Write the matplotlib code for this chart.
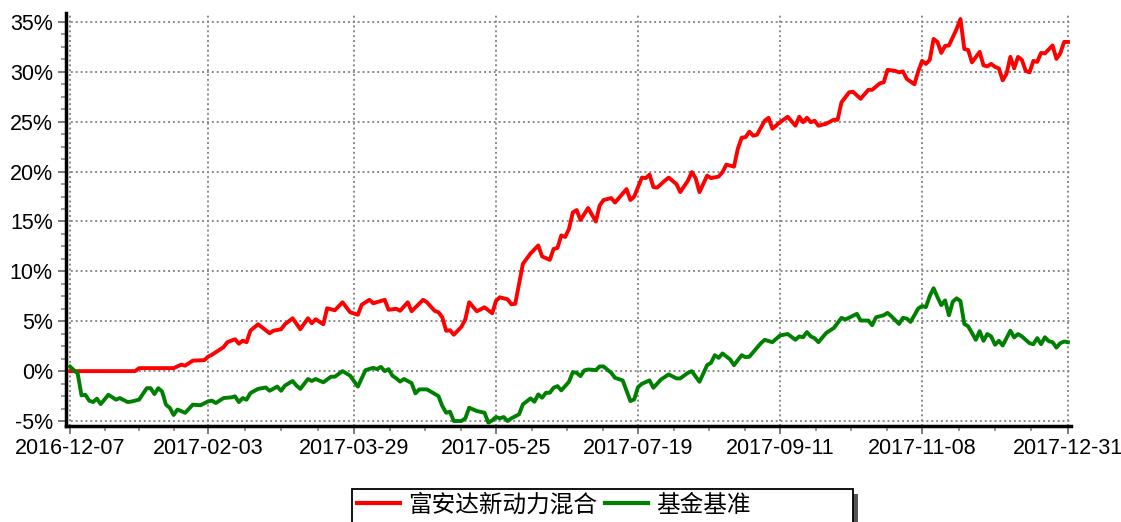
import numpy as np
import matplotlib
matplotlib.use("Agg")
import matplotlib.pyplot as plt
from matplotlib.patches import Rectangle
from matplotlib.lines import Line2D
from matplotlib.font_manager import FontProperties

plt.rcParams['font.family'] = ['Liberation Sans', 'Noto Sans CJK SC']

# trading-day index (0 = 2016-12-07) and cumulative return in %
fund_name = "富安达新动力混合"
bench_name = "基金基准"

fund_idx = [0, 17, 18, 27, 29, 30, 32, 35, 36, 37, 38, 40, 41, 43, 44, 45, 46, 47, 49, 50,
            52, 53, 55, 56, 58, 60, 62, 63, 64, 66, 67, 69, 71, 73, 75, 76, 78, 79, 82, 83,
            85, 86, 88, 89, 92, 93, 95, 96, 97, 98, 99, 100, 102, 103, 104, 106, 108, 110, 111, 112,
            114, 115, 116, 117, 118, 120, 122, 123, 125, 126, 127, 128, 129, 130, 131, 132, 133, 135, 137, 138,
            139, 141, 142, 145, 146, 147, 149, 150, 151, 152, 153, 155, 156, 158, 159, 161, 162, 163, 164, 166,
            167, 169, 170, 171, 173, 174, 175, 176, 177, 178, 179, 181, 182, 183, 185, 187, 189, 190, 191, 192,
            193, 194, 195, 197, 199, 200, 201, 203, 204, 206, 208, 209, 211, 212, 213, 215, 216, 217, 218, 220,
            221, 222, 223, 224, 225, 226, 227, 228, 229, 231, 232, 233, 234, 235, 237, 238, 239, 240, 241, 242,
            243, 244, 245, 246, 247, 248, 249, 250, 251, 252, 253, 254, 256, 257, 258, 259, 260]
fund_pct = [0.0, 0.0, 0.3, 0.3, 0.65, 0.55, 1.05, 1.1, 1.45, 1.65, 1.9, 2.4, 2.9, 3.2, 2.75, 3.05, 2.9, 4.05, 4.7, 4.4,
            3.8, 4.05, 4.2, 4.7, 5.3, 4.2, 5.3, 4.8, 5.2, 4.7, 6.3, 6.1, 6.9, 5.9, 5.65, 6.65, 7.15, 6.8, 7.15, 6.15,
            6.25, 6.05, 6.9, 6.0, 7.15, 6.9, 6.05, 5.9, 5.4, 4.05, 4.1, 3.65, 4.45, 5.2, 6.9, 6.0, 6.4, 5.8, 7.05, 7.4,
            7.2, 6.7, 6.75, 8.75, 10.75, 11.8, 12.6, 11.5, 11.15, 12.25, 12.35, 13.6, 13.45, 14.25, 15.9, 16.15, 15.15, 16.35, 15.0, 16.6,
            17.15, 17.35, 16.9, 18.25, 17.15, 17.5, 19.4, 19.35, 19.7, 18.45, 18.4, 19.1, 19.4, 18.75, 17.95, 19.1, 19.95, 19.35, 17.95, 19.6,
            19.35, 19.5, 19.95, 20.7, 20.5, 22.3, 23.4, 23.45, 24.0, 23.6, 23.7, 25.1, 25.4, 24.3, 24.95, 25.5, 24.6, 25.5, 24.95, 25.4,
            24.95, 25.1, 24.6, 24.8, 25.2, 25.2, 26.95, 27.95, 28.0, 27.3, 28.2, 28.2, 28.85, 28.95, 30.2, 30.1, 29.95, 30.05, 29.3, 28.75,
            30.05, 31.1, 30.8, 31.2, 33.3, 33.0, 31.9, 32.6, 32.65, 34.3, 35.3, 32.3, 32.2, 30.95, 32.0, 30.65, 30.55, 30.8, 30.5, 30.35,
            29.15, 29.8, 31.5, 30.35, 31.5, 31.2, 30.1, 29.95, 31.1, 31.0, 31.9, 31.85, 32.65, 31.3, 31.85, 33.0, 33.0]

bench_idx = [0, 1, 2, 3, 4, 5, 6, 7, 8, 10, 12, 13, 15, 16, 18, 20, 21, 22, 23, 24,
             25, 26, 27, 28, 30, 32, 34, 36, 37, 38, 40, 42, 43, 44, 45, 46, 47, 49, 51, 52,
             54, 55, 56, 58, 59, 60, 62, 63, 64, 66, 68, 69, 71, 73, 75, 77, 79, 80, 81, 82,
             83, 84, 85, 86, 87, 89, 90, 91, 93, 96, 97, 98, 99, 100, 102, 103, 104, 106, 108, 109,
             110, 111, 112, 113, 114, 115, 117, 118, 120, 121, 122, 123, 124, 125, 126, 127, 128, 130, 131, 132,
             133, 134, 135, 137, 138, 139, 141, 142, 144, 146, 147, 148, 149, 151, 152, 154, 156, 158, 159, 161,
             162, 164, 166, 167, 168, 169, 170, 172, 173, 175, 176, 177, 178, 180, 181, 183, 185, 187, 189, 190,
             191, 192, 193, 194, 195, 197, 199, 201, 202, 205, 206, 208, 209, 210, 212, 213, 214, 216, 217, 218,
             219, 221, 222, 223, 224, 225, 226, 227, 228, 229, 230, 231, 232, 233, 234, 236, 237, 238, 239, 240,
             241, 242, 243, 245, 246, 247, 248, 250, 251, 252, 253, 254, 255, 256, 257, 258, 259, 260]
bench_pct = [0.45, 0.1, -0.23, -2.43, -2.37, -2.96, -3.1, -2.76, -3.3, -2.37, -2.86, -2.7, -3.1, -3.05, -2.86, -1.71, -1.71, -2.3, -1.71, -2.04,
             -3.36, -3.68, -4.4, -3.85, -4.18, -3.36, -3.42, -3.03, -2.96, -3.2, -2.7, -2.63, -2.53, -3.1, -2.7, -2.86, -2.2, -1.78, -1.64, -1.97,
             -1.55, -1.97, -1.45, -0.99, -1.45, -1.78, -0.79, -0.99, -0.79, -1.12, -0.56, -0.56, 0.0, -0.46, -1.55, 0.1, 0.33, 0.2, 0.43, 0.0,
             0.2, -0.46, -0.72, -1.05, -0.79, -1.2, -2.23, -1.83, -1.83, -2.5, -3.5, -4.17, -4.07, -5.0, -5.0, -4.73, -3.67, -4.0, -4.17, -5.17,
             -4.93, -4.6, -4.73, -4.6, -5.0, -4.73, -4.33, -3.33, -2.73, -3.07, -2.33, -2.67, -2.17, -2.17, -1.67, -1.5, -1.93, -1.07, -0.1, -0.17,
             -0.5, 0.07, 0.17, 0.1, 0.47, 0.47, -0.17, -0.67, -0.93, -3.0, -2.83, -1.6, -1.27, -0.93, -1.67, -0.83, -0.33, -0.73, -0.73, -0.17,
             0.0, -1.07, 0.6, 0.83, 1.6, 1.33, 1.77, 1.17, 0.6, 1.6, 1.4, 1.45, 1.9, 2.8, 3.14, 2.9, 3.58, 3.72, 3.14, 3.48,
             3.4, 3.92, 3.48, 3.3, 2.9, 3.82, 4.32, 5.34, 5.17, 5.74, 5.07, 5.07, 4.6, 5.4, 5.6, 5.84, 5.5, 4.73, 5.34, 5.27,
             4.93, 6.28, 6.52, 6.42, 7.53, 8.31, 7.43, 6.62, 7.09, 5.6, 6.96, 7.3, 7.03, 4.73, 4.5, 3.14, 4.0, 3.04, 3.72, 3.48,
             2.64, 3.04, 2.57, 4.05, 3.38, 3.72, 3.48, 2.8, 2.7, 3.31, 2.7, 3.4, 3.0, 2.9, 2.36, 2.8, 2.97, 2.9]

tick_idx = [0, 36, 74, 111, 148, 185, 222, 260]
tick_labels = ["2016-12-07", "2017-02-03", "2017-03-29", "2017-05-25",
               "2017-07-19", "2017-09-11", "2017-11-08", "2017-12-31"]
y_ticks = [-5, 0, 5, 10, 15, 20, 25, 30, 35]

W, H = 1121, 522
fig = plt.figure(figsize=(W / 100, H / 100), dpi=100)
ax = fig.add_axes([66 / W, 96 / H, 1005 / W, 413 / H])

ax.plot(fund_idx, fund_pct, color='#ff0000', lw=2.8, solid_joinstyle='round', zorder=3)
ax.plot(bench_idx, bench_pct, color='#008000', lw=2.8, solid_joinstyle='round', zorder=3)

ax.set_xlim(-1.04, 260.8)
ax.set_ylim(-5.5, 35.9)

ax.set_xticks(tick_idx)
ax.set_xticklabels(tick_labels, fontsize=15.5)
minor_x = []
for a, b in zip(tick_idx[:-1], tick_idx[1:]):
    minor_x += [a + (b - a) * k / 4 for k in (1, 2, 3)]
ax.set_xticks(minor_x, minor=True)

ax.set_yticks(y_ticks)
ax.set_yticklabels([f"{v}%" for v in y_ticks], fontsize=15.5)
ax.set_yticks(np.arange(-5, 35.1, 1.25), minor=True)

ax.grid(which='major', color='#8a8a8a', linestyle=(0, (1, 1.5)), lw=1.4)
ax.set_axisbelow(True)

for s in ['top', 'right']:
    ax.spines[s].set_visible(False)
for s in ['left', 'bottom']:
    ax.spines[s].set_linewidth(2.5)
    ax.spines[s].set_color('black')

ax.tick_params(which='major', length=5.5, width=1.2, color='#666666', direction='out')
ax.tick_params(which='minor', length=3.5, width=1.2, color='#888888', direction='out')
ax.tick_params(axis='x', which='major', pad=3)
ax.tick_params(axis='y', which='major', pad=4)

# legend box with shadow
box_x0, box_x1, box_top = 352, 853, 489
shadow = Rectangle(((box_x0 + 5) / W, -0.1), (box_x1 - box_x0) / W, 0.1 + (H - box_top - 5) / H,
                   transform=fig.transFigure, fc='#555555', ec='none', zorder=1)
box = Rectangle((box_x0 / W, -0.1), (box_x1 - box_x0) / W, 0.1 + (H - box_top) / H,
                transform=fig.transFigure, fc='white', ec='black', lw=1.3, zorder=2)
fig.add_artist(shadow)
fig.add_artist(box)

handles = [Line2D([], [], color='#ff0000', lw=3),
           Line2D([], [], color='#008000', lw=3)]
leg = fig.legend(handles, [fund_name, bench_name], loc='center left',
                 bbox_to_anchor=(357 / W, 1 - 505 / H), ncol=2, frameon=False,
                 prop=FontProperties(family=['Noto Sans CJK SC'], size=17),
                 handlelength=1.8, handletextpad=0.35, columnspacing=0.35,
                 borderpad=0, borderaxespad=0)
leg.set_zorder(3)

fig.savefig("out.png", dpi=100)
